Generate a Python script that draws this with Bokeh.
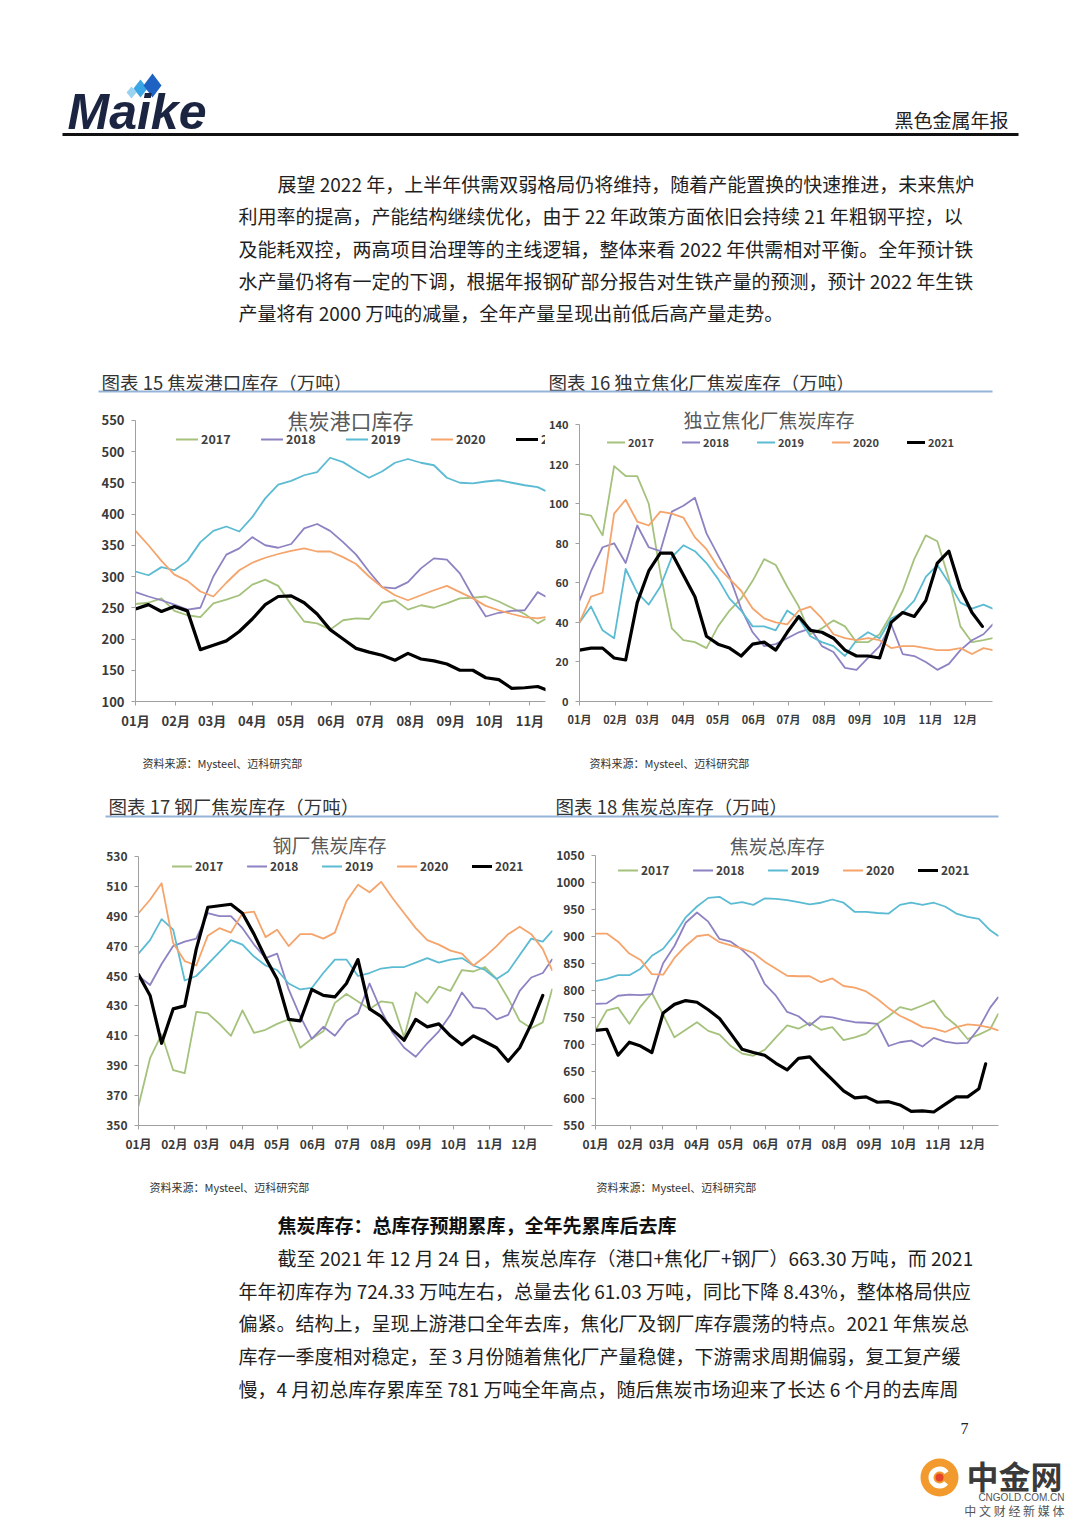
from bokeh.plotting import figure
from bokeh.models import FixedTicker, Label, Legend, LegendItem, Range1d
from bokeh.layouts import column, row
from bokeh.core.properties import value
from bokeh.embed import file_html
from bokeh.resources import INLINE

CJK = "Noto Sans CJK SC"
YEARS = ["2017", "2018", "2019", "2020", "2021"]
YEAR_COLORS = ["#A5C27C", "#8E82C2", "#5BBBD3", "#F5A46C", "#000000"]
YEAR_WIDTHS = [1.8, 1.8, 1.8, 1.8, 3.2]
MONTH_START_DAYS = [0, 31, 59, 90, 120, 151, 181, 212, 243, 273, 304, 334]
MONTH_LABELS = ["01月", "02月", "03月", "04月", "05月", "06月",
                "07月", "08月", "09月", "10月", "11月", "12月"]

# ---------------- 图表15 焦炭港口库存 ----------------
PORT_DAYS = list(range(0, 320, 10)) + [316]
PORT_2017 = [256, 258, 265, 245, 238, 235, 257, 263, 270, 287, 295, 285, 255, 228, 225, 215, 230,
             233, 232, 258, 262, 247, 254, 250, 257, 265, 266, 268, 260, 250, 240, 225, 232]
PORT_2018 = [275, 268, 262, 255, 247, 250, 300, 335, 345, 363, 350, 346, 352, 377, 384, 373, 355,
             335, 308, 283, 281, 291, 313, 329, 327, 305, 268, 236, 242, 245, 246, 275, 268]
PORT_2019 = [308, 302, 315, 310, 325, 355, 373, 380, 372, 395, 425, 447, 453, 462, 467, 490, 483,
             470, 458, 468, 482, 488, 482, 478, 458, 450, 449, 452, 454, 450, 446, 443, 437]
PORT_2020 = [373, 350, 325, 303, 293, 276, 268, 290, 310, 322, 330, 336, 341, 345, 340, 340, 331,
             320, 300, 283, 270, 262, 270, 278, 285, 275, 265, 253, 246, 240, 235, 233, 235]
PORT_2021 = [248, 255, 244, 252, 245, 183, 190, 197, 212, 232, 255, 268, 269, 258, 240, 215, 200,
             185, 179, 174, 166, 177, 168, 165, 160, 150, 150, 138, 135, 121, 122, 124, 119]
PORT_YTICKS = [100, 150, 200, 250, 300, 350, 400, 450, 500, 550]

# ---------------- 图表16 独立焦化厂焦炭库存 ----------------
COKING_DAYS = list(range(0, 360, 10)) + [358]
COKING_DAYS_2021 = list(range(0, 350, 10)) + [349]
COKING_2017 = [95, 94, 84, 119, 114, 114, 100, 65, 37, 31, 30, 27, 38, 46, 52, 61, 72, 69, 58,
               48, 34, 37, 41, 38, 30, 30, 34, 44, 56, 72, 84, 81, 62, 38, 30, 31, 32]
COKING_2018 = [51, 66, 78, 80, 70, 89, 78, 76, 96, 99, 103, 85, 74, 63, 47, 35, 28, 29, 32,
               35, 37, 28, 25, 17, 16, 22, 28, 39, 24, 23, 20, 16, 19, 26, 31, 34, 39]
COKING_2019 = [40, 48, 36, 32, 67, 55, 49, 58, 73, 79, 76, 70, 62, 52, 46, 38, 38, 36, 46,
               42, 33, 30, 28, 23, 31, 35, 32, 42, 45, 51, 63, 69, 60, 50, 47, 49, 47]
COKING_2020 = [40, 53, 55, 95, 102, 91, 89, 96, 95, 93, 83, 77, 68, 62, 56, 47, 42, 40, 39,
               46, 48, 42, 34, 32, 31, 32, 31, 27, 28, 28, 27, 26, 26, 27, 24, 27, 26]
COKING_2021 = [26, 27, 27, 22, 21, 50, 66, 75, 75, 64, 53, 33, 29, 27, 23, 29, 30, 26, 35,
               43, 36, 35, 32, 26, 23, 23, 22, 40, 45, 43, 51, 70, 76, 57, 45, 38]
COKING_YTICKS = [0, 20, 40, 60, 80, 100, 120, 140]

# ---------------- 图表17 钢厂焦炭库存 ----------------
STEEL_DAYS = list(range(0, 360, 10)) + [358]
STEEL_DAYS_2021 = list(range(0, 360, 10))
STEEL_2017 = [363, 395, 411, 387, 385, 426, 425, 418, 410, 427, 412, 414, 418, 421, 402, 408, 413,
              432, 438, 433, 428, 433, 432, 409, 439, 432, 443, 440, 454, 453, 456, 448, 435, 420,
              415, 419, 441]
STEEL_2018 = [450, 444, 458, 470, 473, 475, 492, 490, 490, 482, 471, 462, 465, 441, 423, 408, 416,
              410, 420, 425, 445, 427, 412, 402, 396, 405, 413, 424, 439, 429, 428, 421, 424, 440,
              449, 452, 461]
STEEL_2019 = [465, 474, 488, 481, 447, 450, 458, 466, 474, 471, 463, 457, 454, 445, 441, 442, 452,
              461, 461, 450, 452, 455, 456, 456, 459, 462, 459, 461, 462, 457, 454, 448, 453, 464,
              475, 473, 480]
STEEL_2020 = [492, 501, 512, 472, 460, 457, 477, 482, 479, 492, 493, 476, 481, 470, 478, 478, 475,
              479, 500, 511, 506, 513, 502, 492, 482, 474, 471, 467, 465, 457, 463, 470, 478, 483,
              478, 468, 454]
STEEL_2021 = [451, 437, 405, 428, 430, 468, 496, 497, 498, 492, 478, 462, 448, 421, 420, 441, 437,
              436, 445, 461, 428, 423, 414, 407, 421, 416, 418, 410, 404, 410, 406, 402, 393, 402,
              418, 437]
STEEL_YTICKS = [350, 370, 390, 410, 430, 450, 470, 490, 510, 530]

# ---------------- 图表18 焦炭总库存 ----------------
TOTAL_DAYS = list(range(0, 360, 10)) + [357]
TOTAL_DAYS_2021 = list(range(0, 350, 10)) + [346]
TOTAL_2017 = [726, 763, 768, 738, 770, 795, 755, 713, 727, 741, 725, 718, 697, 683, 679, 690, 713,
              735, 729, 740, 727, 732, 708, 713, 720, 738, 752, 769, 764, 772, 781, 752, 735, 710,
              718, 728, 756]
TOTAL_2018 = [775, 776, 790, 792, 791, 793, 850, 882, 925, 944, 927, 895, 890, 875, 855, 812, 790,
              760, 752, 735, 752, 750, 745, 741, 740, 738, 697, 704, 707, 696, 712, 705, 702, 703,
              730, 768, 787]
TOTAL_2019 = [817, 821, 828, 828, 840, 864, 877, 903, 935, 955, 971, 973, 960, 963, 958, 970, 969,
              967, 963, 959, 962, 968, 962, 945, 945, 943, 942, 958, 962, 958, 962, 955, 942, 936,
              932, 911, 901]
TOTAL_2020 = [905, 905, 890, 868, 856, 830, 829, 860, 882, 900, 903, 889, 883, 877, 869, 853, 840,
              827, 826, 826, 815, 822, 808, 805, 798, 784, 767, 753, 743, 732, 729, 723, 732, 737,
              735, 731, 726]
TOTAL_2021 = [726, 728, 680, 704, 697, 685, 758, 774, 781, 778, 764, 748, 720, 691, 685, 680, 665,
              653, 674, 677, 655, 635, 614, 601, 603, 593, 594, 588, 576, 577, 575, 589, 603, 603,
              618, 664]
TOTAL_YTICKS = [550, 600, 650, 700, 750, 800, 850, 900, 950, 1000, 1050]

# ---------------- page texts ----------------
HEADER_RIGHT = "黑色金属年报"
PARA_TOP = [
    "展望 2022 年，上半年供需双弱格局仍将维持，随着产能置换的快速推进，未来焦炉",
    "利用率的提高，产能结构继续优化，由于 22 年政策方面依旧会持续 21 年粗钢平控，以",
    "及能耗双控，两高项目治理等的主线逻辑，整体来看 2022 年供需相对平衡。全年预计铁",
    "水产量仍将有一定的下调，根据年报钢矿部分报告对生铁产量的预测，预计 2022 年生铁",
    "产量将有 2000 万吨的减量，全年产量呈现出前低后高产量走势。",
]
CAPTIONS = ["图表 15  焦炭港口库存（万吨）", "图表 16  独立焦化厂焦炭库存（万吨）",
            "图表 17  钢厂焦炭库存（万吨）", "图表 18  焦炭总库存（万吨）"]
CHART_TITLES = ["焦炭港口库存", "独立焦化厂焦炭库存", "钢厂焦炭库存", "焦炭总库存"]
SOURCE = "资料来源：Mysteel、迈科研究部"
HEADING = "焦炭库存：总库存预期累库，全年先累库后去库"
PARA_BOTTOM = [
    "截至 2021 年 12 月 24 日，焦炭总库存（港口+焦化厂+钢厂）663.30 万吨，而 2021",
    "年年初库存为 724.33 万吨左右，总量去化 61.03 万吨，同比下降 8.43%，整体格局供应",
    "偏紧。结构上，呈现上游港口全年去库，焦化厂及钢厂库存震荡的特点。2021 年焦炭总",
    "库存一季度相对稳定，至 3 月份随着焦化厂产量稳健，下游需求周期偏弱，复工复产缓",
    "慢，4 月初总库存累库至 781 万吨全年高点，随后焦炭市场迎来了长达 6 个月的去库周",
]
PAGE_NO = "7"
WATERMARK = ["中金网", "CNGOLD.COM.CN", "中 文 财 经 新 媒 体"]

PAGE_W = 1072


def canvas(w, h):
    p = figure(width=w, height=h, x_range=Range1d(0, w), y_range=Range1d(h, 0),
               x_axis_type=None, y_axis_type=None, output_backend="svg",
               toolbar_location=None, min_border=0)
    p.outline_line_color = None
    p.background_fill_color = "white"
    p.border_fill_color = "white"
    return p


def txt(p, xs, ys, texts, size, color="#222222", font=CJK, style="normal",
        align="left", baseline="middle"):
    p.text(x=xs, y=ys, text=texts, text_font=value(font), text_font_size=value(size),
           text_font_style=style, text_color=color, text_align=align,
           text_baseline=baseline)


def make_chart(fig_left, fig_top, width, height, left, right, bottom, xmax, y0, ymax,
               yticks, days_list, vals_list, title, title_center, title_size, tick_size,
               legend_x, legend_cy, glyph_w, label_w, pitch, legend_size):
    fw = width - left - right
    fh = height - bottom
    p = figure(width=width, height=height, x_range=Range1d(0, xmax),
               y_range=Range1d(y0, ymax), output_backend="svg", toolbar_location=None,
               min_border_left=left, min_border_right=right, min_border_top=0,
               min_border_bottom=bottom)
    p.outline_line_color = None
    p.xgrid.visible = False
    p.ygrid.visible = False
    p.background_fill_color = "white"
    p.border_fill_color = "white"

    rends = []
    for days, vals, color, lw in zip(days_list, vals_list, YEAR_COLORS, YEAR_WIDTHS):
        assert len(days) == len(vals), (title, len(days), len(vals))
        rends.append(p.line(days, vals, line_color=color, line_width=lw,
                            line_join="round", line_cap="round"))

    axis_color = "#A0A0A0"
    xa = p.xaxis[0]
    xa.ticker = FixedTicker(ticks=MONTH_START_DAYS)
    xa.major_label_overrides = {d: lab for d, lab in zip(MONTH_START_DAYS, MONTH_LABELS)}
    xa.minor_tick_line_color = None
    xa.major_tick_in = 0
    xa.major_tick_out = 4
    xa.major_label_standoff = 5
    xa.axis_line_color = axis_color
    xa.major_tick_line_color = axis_color
    xa.major_label_text_font = CJK
    xa.major_label_text_font_style = "bold"
    xa.major_label_text_font_size = tick_size
    xa.major_label_text_color = "#3A3A3A"

    ya = p.yaxis[0]
    ya.ticker = FixedTicker(ticks=yticks)
    ya.bounds = (yticks[0], yticks[-1])
    ya.minor_tick_line_color = None
    ya.major_tick_in = 0
    ya.major_tick_out = 4
    ya.major_label_standoff = 7
    ya.axis_line_color = axis_color
    ya.major_tick_line_color = axis_color
    ya.major_label_text_font = CJK
    ya.major_label_text_font_style = "bold"
    ya.major_label_text_font_size = tick_size
    ya.major_label_text_color = "#3A3A3A"

    frame_left = fig_left + left
    axis_y = fig_top + fh
    px_day = fw / xmax
    px_unit = fh / (ymax - y0)
    tx = (title_center[0] - frame_left) / px_day
    ty = y0 + (axis_y - title_center[1]) / px_unit
    p.add_layout(Label(x=tx, y=ty, text=title, text_align="center", text_baseline="middle",
                       text_font=CJK, text_font_size=title_size, text_color="#595959"))

    standoff = 3
    items = [LegendItem(label=y, renderers=[r]) for y, r in zip(YEARS, rends)]
    leg = Legend(items=items, orientation="horizontal",
                 location=(legend_x - frame_left, fh - (legend_cy - fig_top) - 7),
                 background_fill_alpha=0, border_line_color=None, padding=0, margin=0,
                 glyph_width=glyph_w, glyph_height=14, label_height=14, label_width=label_w,
                 label_standoff=standoff, spacing=pitch - glyph_w - standoff - label_w,
                 label_text_font=CJK, label_text_font_style="bold",
                 label_text_font_size=legend_size, label_text_color="#404040")
    p.add_layout(leg)
    return p


# ---------------- section A (page y 0-400): header, paragraph, captions ----------------
secA = canvas(PAGE_W, 400)
secA.patches(
    xs=[[126, 131, 136, 131], [133, 140, 147, 140], [143, 152, 161, 152]],
    ys=[[92, 86, 92, 98], [88, 79, 88, 97], [85, 73, 85, 97]],
    fill_color=["#9AD3F0", "#3AA6E6", "#1E63C4"], line_color=None)
txt(secA, [67], [111], ["Maike"], "50px", color="#1B2440", font="Liberation Sans",
    style="bold italic")
txt(secA, [1008], [119], [HEADER_RIGHT], "19px", color="#222222", align="right")
secA.line([62, 1018], [134, 134], line_color="#111111", line_width=3)
txt(secA, [277] + [238] * 4, [183, 215, 248, 280, 312], PARA_TOP, "19px", color="#1E1E1E")
txt(secA, [101, 548], [381, 381], CAPTIONS[:2], "18.5px", color="#333333")
secA.line([98, 992], [391, 391], line_color="#95B3D7", line_width=2)

# ---------------- row 1 charts (page y 400-740) ----------------
c15 = make_chart(fig_left=0, fig_top=400, width=546, height=340, left=135, right=1, bottom=39,
                 xmax=316, y0=100, ymax=581.6, yticks=PORT_YTICKS,
                 days_list=[PORT_DAYS] * 5,
                 vals_list=[PORT_2017, PORT_2018, PORT_2019, PORT_2020, PORT_2021],
                 title=CHART_TITLES[0], title_center=(350, 419), title_size="21px",
                 tick_size="13px", legend_x=176, legend_cy=441, glyph_w=22, label_w=38,
                 pitch=85, legend_size="12.5px")
c16 = make_chart(fig_left=546, fig_top=400, width=526, height=340, left=32, right=80, bottom=39,
                 xmax=357.8, y0=0, ymax=152.2, yticks=COKING_YTICKS,
                 days_list=[COKING_DAYS] * 4 + [COKING_DAYS_2021],
                 vals_list=[COKING_2017, COKING_2018, COKING_2019, COKING_2020, COKING_2021],
                 title=CHART_TITLES[1], title_center=(768, 419), title_size="19px",
                 tick_size="11px", legend_x=606, legend_cy=443, glyph_w=18, label_w=32,
                 pitch=75, legend_size="11px")

# ---------------- section B (page y 740-826) ----------------
secB = canvas(PAGE_W, 86)
txt(secB, [142, 589], [22, 22], [SOURCE, SOURCE], "11px", color="#333333")
txt(secB, [108, 555], [65, 65], CAPTIONS[2:], "18.5px", color="#333333")
secB.line([105, 998], [76, 76], line_color="#95B3D7", line_width=2)

# ---------------- row 2 charts (page y 826-1165) ----------------
c17 = make_chart(fig_left=0, fig_top=826, width=553, height=339, left=138, right=1, bottom=38,
                 xmax=358.4, y0=350, ymax=550, yticks=STEEL_YTICKS,
                 days_list=[STEEL_DAYS] * 4 + [STEEL_DAYS_2021],
                 vals_list=[STEEL_2017, STEEL_2018, STEEL_2019, STEEL_2020, STEEL_2021],
                 title=CHART_TITLES[2], title_center=(329, 844), title_size="19px",
                 tick_size="12px", legend_x=172, legend_cy=869, glyph_w=20, label_w=32,
                 pitch=75, legend_size="12px")
c18 = make_chart(fig_left=553, fig_top=826, width=519, height=339, left=39, right=74, bottom=40,
                 xmax=357.4, y0=550, ymax=1103, yticks=TOTAL_YTICKS,
                 days_list=[TOTAL_DAYS] * 4 + [TOTAL_DAYS_2021],
                 vals_list=[TOTAL_2017, TOTAL_2018, TOTAL_2019, TOTAL_2020, TOTAL_2021],
                 title=CHART_TITLES[3], title_center=(775, 845), title_size="19px",
                 tick_size="12px", legend_x=615, legend_cy=871, glyph_w=20, label_w=32,
                 pitch=75, legend_size="12px")

# ---------------- section C (page y 1165-1519) ----------------
secC = canvas(PAGE_W, 354)
txt(secC, [149, 596], [21, 21], [SOURCE, SOURCE], "11px", color="#333333")
txt(secC, [277], [59], [HEADING], "19px", color="#111111", style="bold")
txt(secC, [277] + [238] * 4, [92, 125, 157, 190, 223], PARA_BOTTOM, "19px", color="#1E1E1E")
txt(secC, [960], [263], [PAGE_NO], "16px", color="#222222", font="Liberation Serif")
# watermark
secC.circle(x=[939], y=[312], radius=19, fill_color="#F29A2E", line_color=None)
secC.annular_wedge(x=[939], y=[312], inner_radius=6, outer_radius=11, start_angle=0.6,
                   end_angle=5.6, fill_color="white", line_color=None)
secC.circle(x=[939], y=[312], radius=4, fill_color="#E5462B", line_color=None)
txt(secC, [966], [309], [WATERMARK[0]], "32px", color="#3A3A3A", style="bold")
txt(secC, [1064], [332], [WATERMARK[1]], "10px", color="#555555", font="Liberation Sans",
    align="right")
txt(secC, [1064], [345], [WATERMARK[2]], "12px", color="#555555", align="right")

layout = column(secA, row(c15, c16), secB, row(c17, c18), secC)
open("out.html", "w").write(file_html(layout, INLINE))
